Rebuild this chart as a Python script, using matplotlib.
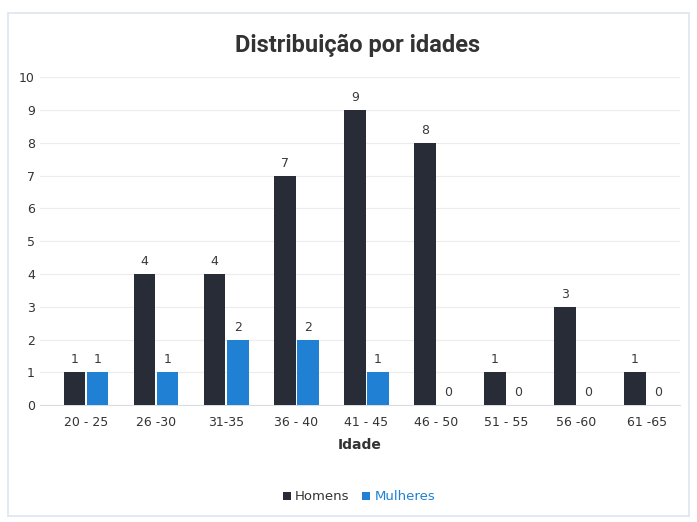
import numpy as np
import matplotlib.pyplot as plt
from matplotlib.patches import Rectangle

# data
faixas = ["20 - 25", "26 -30", "31-35", "36 - 40", "41 - 45", "46 - 50", "51 - 55", "56 -60", "61 -65"]
homens = [1, 4, 4, 7, 9, 8, 1, 3, 1]
mulheres = [1, 1, 2, 2, 1, 0, 0, 0, 0]

cor_h = "#272c36"
cor_m = "#1f80d4"

fig = plt.figure(figsize=(6.97, 5.22), dpi=100)
ax = fig.add_axes([0.057, 0.224, 0.919, 0.628])

x = np.arange(len(faixas))
w = 0.31
b1 = ax.bar(x - w / 2 - 0.01, homens, w, color=cor_h, label="Homens", zorder=3)
b2 = ax.bar(x + w / 2 + 0.01, mulheres, w, color=cor_m, label="Mulheres", zorder=3)

for rects, vals in [(b1, homens), (b2, mulheres)]:
    for r, v in zip(rects, vals):
        ax.text(r.get_x() + r.get_width() / 2, v + 0.18, str(v),
                ha="center", va="bottom", fontsize=9, color="#3a3a3a")

ax.set_ylim(0, 10)
ax.set_xlim(-0.66, 8.48)
ax.set_yticks(range(0, 11))
ax.set_xticks(x)
ax.set_xticklabels(faixas)
ax.tick_params(axis="both", length=0, labelsize=9, colors="#333333")
ax.tick_params(axis="x", pad=8)
ax.grid(axis="y", color="#ececec", linewidth=0.8, zorder=0)
for s in ["top", "right", "left"]:
    ax.spines[s].set_visible(False)
ax.spines["bottom"].set_color("#d9dde3")

ax.set_xlabel("Idade", fontsize=10, fontweight="bold", color="#333333", labelpad=6)
fig.text(0.513, 0.913, "Distribuição por idades", ha="center", va="center",
         fontsize=17, fontweight="bold", color="#333333", family=["Roboto", "DejaVu Sans"])

leg = fig.legend(loc="center", bbox_to_anchor=(0.515, 0.048), ncol=2, frameon=False,
                 fontsize=9.5, handlelength=0.6, handleheight=0.6, handletextpad=0.3,
                 columnspacing=1.0)
leg.get_texts()[0].set_color("#333333")
leg.get_texts()[1].set_color(cor_m)

# chart border
fig.patches.append(Rectangle((0.012, 0.012), 0.976, 0.963, transform=fig.transFigure,
                             fill=False, edgecolor="#dbe6f0", linewidth=1.2))

fig.savefig("out.png", dpi=100)
